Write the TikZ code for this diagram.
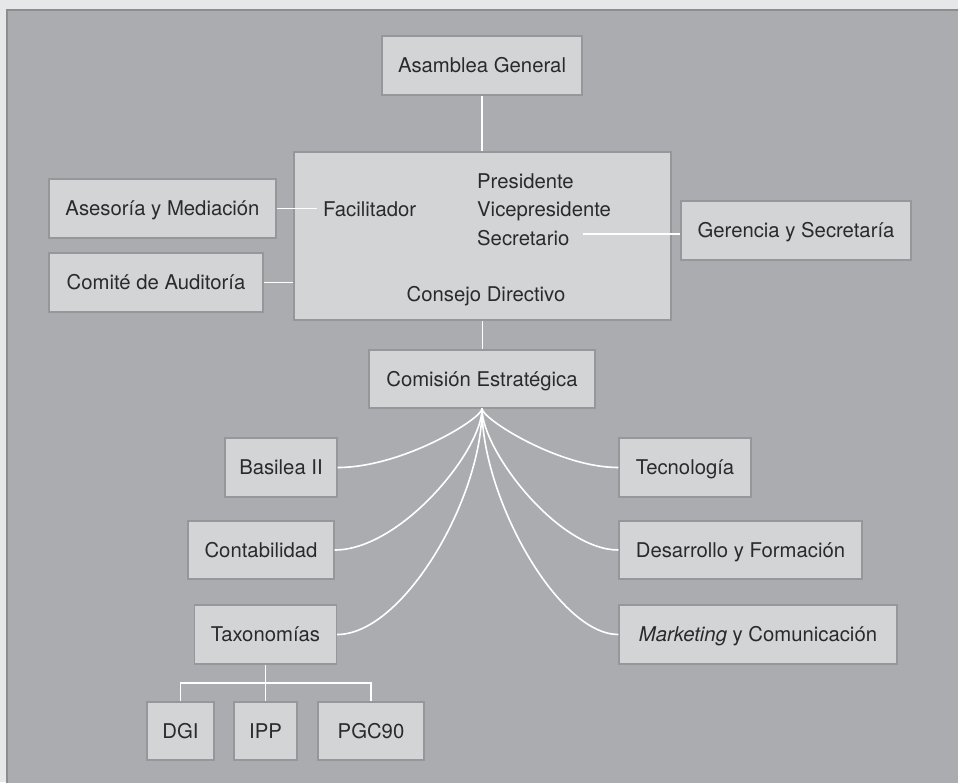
\documentclass[tikz,border=0pt]{standalone}
\usepackage{fontspec}
\setmainfont{TeX Gyre Heros}
\usetikzlibrary{calc}
\definecolor{outerbg}{RGB}{230,231,232}
\definecolor{panelbg}{RGB}{171,172,175}
\definecolor{panelline}{RGB}{140,141,143}
\definecolor{boxfill}{RGB}{211,212,214}
\definecolor{boxline}{RGB}{150,151,154}
\definecolor{txtcol}{RGB}{42,42,42}
\begin{document}
\begin{tikzpicture}[x=1pt,y=-1pt,
  every node/.style={font=\fontsize{20.3}{24}\selectfont, text=txtcol},
  orgbox/.style={draw=boxline, fill=boxfill, line width=1.3pt, minimum height=59pt, inner sep=0pt, text height=14.6pt, text depth=0pt, anchor=center},
  plain/.style={inner sep=6pt, text height=14.6pt, text depth=0pt},
  link/.style={draw=white, line width=1.6pt}]
\useasboundingbox (0,0) rectangle (958,782);
\fill[outerbg] (0,0) rectangle (958,782);
\draw[panelline, fill=panelbg, line width=1.8pt] (7,10) rectangle (975,800);

\node[orgbox, minimum width=200pt] (asam) at (482,65.5) {Asamblea General};
\node[orgbox, minimum width=377pt, minimum height=168pt] (cons) at (482.5,236) {};
\node[orgbox, minimum width=227pt] (ases) at (162.5,208.5) {Asesoría y Mediación};
\node[orgbox, minimum width=214pt] (comi) at (156,282.5) {Comité de Auditoría};
\node[orgbox, minimum width=230pt] (ger) at (796,230.5) {Gerencia y Secretaría};
\node[orgbox, minimum width=226pt, minimum height=58pt] (cs) at (482,379) {Comisión Estratégica};
\node[orgbox, minimum width=112pt] (bas) at (281,467.5) {Basilea II};
\node[orgbox, minimum width=146pt, minimum height=58pt] (cont) at (261,550) {Contabilidad};
\node[orgbox, minimum width=142pt] (tax) at (265.5,634.5) {Taxonomías};
\node[orgbox, minimum width=67pt, minimum height=58pt] (dgi) at (180.5,731) {DGI};
\node[orgbox, minimum width=63pt, minimum height=58pt] (ipp) at (265.5,731) {IPP};
\node[orgbox, minimum width=106pt, minimum height=58pt] (pgc) at (371,731) {PGC90};
\node[orgbox, minimum width=132pt] (tec) at (685,467.5) {Tecnología};
\node[orgbox, minimum width=243pt, minimum height=58pt] (des) at (740.5,550) {Desarrollo y Formación};
\node[orgbox, minimum width=278pt] (mkt) at (758,634.5) {\textit{Marketing} y Comunicación};

\node[plain, anchor=base west] (fac) at (317,216) {Facilitador};
\node[plain, anchor=base west] (pres) at (471,188.5) {Presidente};
\node[plain, anchor=base west] (vice) at (471,216.7) {Vicepresidente};
\node[plain, anchor=base west] (sec) at (471,245) {Secretario};
\node[plain, anchor=base] (consl) at (486,301.7) {Consejo Directivo};

\draw[link] (asam.south) -- (asam.south |- cons.north);
\draw[link] (cons.south) -- (cons.south |- cs.north);
\draw[link] (ases.east) -- (ases.east -| fac.west);
\draw[link] (comi.east) -- (comi.east -| cons.west);
\coordinate (secL) at ([xshift=7pt,yshift=4pt]sec.east);
\draw[link] (secL) -- (secL -| ger.west);

\draw[link] (cs.south) .. controls +(0,10) and +(65,0) .. (bas.east);
\draw[link] (cs.south) .. controls +(0,42) and +(66,0) .. (cont.east);
\draw[link] (cs.south) .. controls +(0,90) and +(66,0) .. (tax.east);
\draw[link] (cs.south) .. controls +(0,10) and +(-60,0) .. (tec.west);
\draw[link] (cs.south) .. controls +(0,42) and +(-60,0) .. (des.west);
\draw[link] (cs.south) .. controls +(0,90) and +(-60,0) .. (mkt.west);

\coordinate (tj) at ($(tax.south)!0.5!(ipp.north)$);
\draw[link] (dgi.north) |- (tj) -| (pgc.north);
\draw[link] (tax.south) -- (ipp.north);
\end{tikzpicture}
\end{document}
